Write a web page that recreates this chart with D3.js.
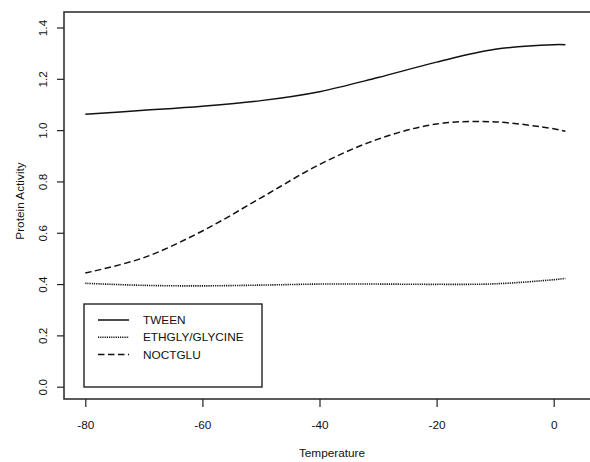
<!DOCTYPE html>
<html>
<head>
<meta charset="utf-8">
<script src="https://cdn.jsdelivr.net/npm/d3@7"></script>
<style>
  body { margin: 0; background: #fff; }
  svg { display: block; font-family: "Liberation Sans", Arial, sans-serif; }
</style>
</head>
<body>
<svg id="chart" width="590" height="462"></svg>
<script>
/************** Data **************/
const temps   = [-80, -70, -60, -50, -40, -30, -20, -10, 0, 2];
const tween   = [1.062, 1.077, 1.093, 1.115, 1.150, 1.205, 1.265, 1.315, 1.333, 1.333];
const ethgly  = [0.403, 0.395, 0.393, 0.396, 0.400, 0.400, 0.399, 0.401, 0.417, 0.422];
const noctglu = [0.443, 0.503, 0.607, 0.736, 0.866, 0.965, 1.024, 1.032, 1.005, 0.996];

const seriesNames = ["TWEEN", "ETHGLY/GLYCINE", "NOCTGLU"];
const seriesVals  = [tween, ethgly, noctglu];
const xTicks = [-80, -60, -40, -20, 0];
const yTicks = [0.0, 0.2, 0.4, 0.6, 0.8, 1.0, 1.2, 1.4];

/************** Layout **************/
const frame = { left: 64, top: 12, right: 600, bottom: 399 };
const dashes = ["none", "1.2,1", "6.5,3.5"];
const fs = 11.8;

const svg = d3.select("#chart");

const x = d3.scaleLinear().domain([-80, 0]).range([85.3, 553.7]);
const y = d3.scaleLinear().domain([0, 1.4]).range([386.7, 27.5]);

// plot box (right side runs off the page)
svg.append("rect")
  .attr("x", frame.left).attr("y", frame.top)
  .attr("width", frame.right - frame.left).attr("height", frame.bottom - frame.top)
  .attr("fill", "none").attr("stroke", "#333").attr("stroke-width", 1.6);

// x axis -- plain hyphen for negatives, like the original
const gx = svg.append("g")
  .attr("transform", `translate(0,${frame.bottom})`)
  .call(d3.axisBottom(x).tickValues(xTicks).tickSize(8).tickPadding(14).tickFormat(d => String(d)));
gx.select(".domain").remove();
gx.selectAll("line").attr("stroke", "#222").attr("stroke-width", 1.2);
gx.selectAll("text").attr("font-size", fs).attr("fill", "#111")
  .attr("font-family", "Liberation Sans, Arial, sans-serif");

// y axis (labels rotated)
const gy = svg.append("g")
  .attr("transform", `translate(${frame.left},0)`)
  .call(d3.axisLeft(y).tickValues(yTicks).tickSize(7).tickFormat(d3.format(".1f")));
gy.select(".domain").remove();
gy.selectAll("line").attr("stroke", "#222").attr("stroke-width", 1.2);
gy.selectAll("text")
  .attr("x", null).attr("dy", null)
  .attr("transform", "translate(-17,0) rotate(-90)")
  .attr("text-anchor", "middle")
  .attr("font-size", fs).attr("fill", "#111")
  .attr("font-family", "Liberation Sans, Arial, sans-serif");

// axis titles
svg.append("text")
  .attr("x", 332).attr("y", 457)
  .attr("text-anchor", "middle").attr("font-size", fs).attr("fill", "#111")
  .text("Temperature");
svg.append("text")
  .attr("transform", "translate(24,201) rotate(-90)")
  .attr("text-anchor", "middle").attr("font-size", fs).attr("fill", "#111")
  .text("Protein Activity");

// curves
const line = d3.line()
  .x((d, i) => x(temps[i]))
  .y(d => y(d))
  .curve(d3.curveCatmullRom.alpha(0.5));

svg.append("g").selectAll("path")
  .data(seriesVals)
  .join("path")
    .attr("d", line)
    .attr("fill", "none")
    .attr("stroke", "#111")
    .attr("stroke-width", (d, i) => i === 1 ? 1.6 : 1.5)
    .attr("stroke-dasharray", (d, i) => dashes[i]);

/************** Legend **************/
const lg = svg.append("g");
lg.append("rect")
  .attr("x", 84).attr("y", 304).attr("width", 178).attr("height", 83)
  .attr("fill", "#fff").attr("stroke", "#222").attr("stroke-width", 1.4);

const rows = lg.selectAll("g.row")
  .data(seriesNames)
  .join("g")
    .attr("class", "row")
    .attr("transform", (d, i) => `translate(0,${320 + i * 17.3})`);

rows.append("line")
  .attr("x1", 98).attr("x2", 129)
  .attr("stroke", "#111").attr("stroke-width", 1.5)
  .attr("stroke-dasharray", (d, i) => dashes[i]);

rows.append("text")
  .attr("x", 143).attr("dy", "0.35em")
  .attr("font-size", fs).attr("fill", "#111")
  .text(d => d);
</script>
</body>
</html>
